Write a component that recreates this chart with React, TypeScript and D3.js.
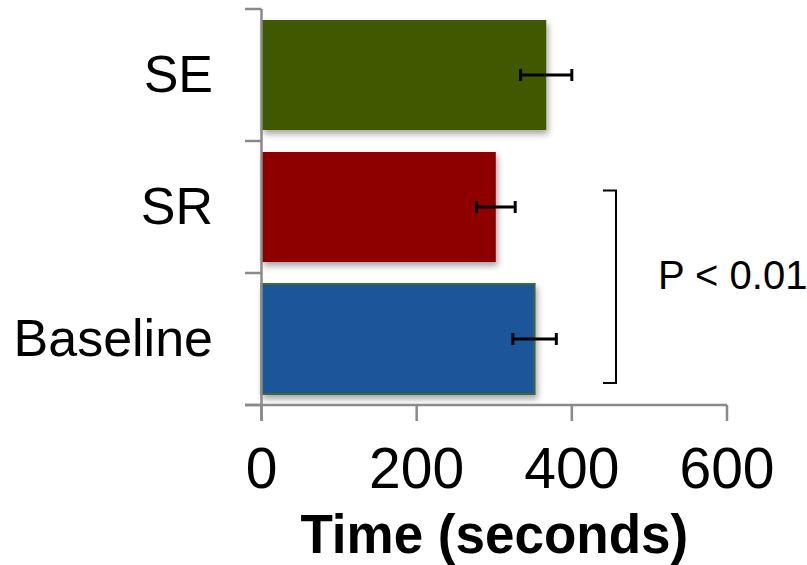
import React from "react";
import * as d3 from "d3";

const categories = ["SE", "SR", "Baseline"];
const means = [367, 302, 352];
const errors = [33, 25, 28];
const barColors = ["#405800", "#8e0000", "#1a5599"];
const barStrokes = ["none", "none", "#3d6a3a"];
const xTicks = [0, 200, 400, 600];
const xTitle = "Time (seconds)";
const sigLabel = "P < 0.01";

const W = 807;
const H = 565;
const FONT = "'Liberation Sans', Arial, Helvetica, sans-serif";

export default function App() {
  const x = d3.scaleLinear().domain([0, 600]).range([261.5, 727]);
  const y = d3
    .scaleBand<string>()
    .domain(categories)
    .range([9, 405])
    .paddingInner(0.1667)
    .paddingOuter(0.0833);
  const axisColor = "#8a8a8a";
  const bandTicks = [9, 9 + 132, 9 + 264, 405];
  const bw = y.bandwidth();
  const sigTop = y("SR")! + bw * 0.35;
  const sigBot = y("Baseline")! + bw * 0.9;
  const titleX = (x(0) + x(600)) / 2;

  return (
    <svg
      width={W}
      height={H}
      style={{ position: "absolute", left: 0, top: 0, background: "#fff" }}
      fontFamily={FONT}
    >
      <defs>
        <filter id="sh" x="-10%" y="-10%" width="130%" height="140%">
          <feDropShadow dx="2" dy="4" stdDeviation="3" floodColor="#000" floodOpacity="0.35" />
        </filter>
      </defs>
      <rect x={0} y={0} width={W} height={H} fill="#fff" />

      {/* bars */}
      {categories.map((c, i) => (
        <rect
          key={c}
          x={x(0)}
          y={y(c)!}
          width={x(means[i]) - x(0)}
          height={bw}
          fill={barColors[i]}
          stroke={barStrokes[i]}
          strokeWidth={barStrokes[i] === "none" ? 0 : 2}
          filter="url(#sh)"
        />
      ))}

      {/* axes */}
      <line x1={x(0)} x2={x(0)} y1={bandTicks[0]} y2={421} stroke={axisColor} strokeWidth={2.5} />
      {bandTicks.map((t, i) => (
        <line key={"yt" + i} x1={245} x2={x(0)} y1={t} y2={t} stroke={axisColor} strokeWidth={2.5} />
      ))}
      <line x1={245} x2={x(600)} y1={405} y2={405} stroke={axisColor} strokeWidth={2.5} />
      {xTicks.map((t) => (
        <line key={"xt" + t} x1={x(t)} x2={x(t)} y1={405} y2={421} stroke={axisColor} strokeWidth={2.5} />
      ))}

      {/* error bars */}
      {categories.map((c, i) => {
        const cy = y(c)! + bw / 2;
        const x1 = x(means[i] - errors[i]);
        const x2 = x(means[i] + errors[i]);
        return (
          <g key={"e" + c} stroke="#000" strokeWidth={3}>
            <line x1={x1} x2={x2} y1={cy} y2={cy} />
            <line x1={x1} x2={x1} y1={cy - 6} y2={cy + 6} />
            <line x1={x2} x2={x2} y1={cy - 6} y2={cy + 6} />
          </g>
        );
      })}

      {/* category labels */}
      {categories.map((c) => (
        <text
          key={"l" + c}
          x={213}
          y={y(c)! + bw / 2 + 17}
          textAnchor="end"
          fontSize={52}
          fill="#000"
        >
          {c}
        </text>
      ))}

      {/* x tick labels */}
      {xTicks.map((t) => (
        <text key={"xl" + t} x={x(t)} y={488} textAnchor="middle" fontSize={57} fill="#000">
          {t}
        </text>
      ))}

      <g transform={`translate(${titleX},553) scale(1,1.05)`}>
        <text x={0} y={0} textAnchor="middle" fontSize={53} fontWeight="bold" fill="#000">
          {xTitle}
        </text>
      </g>

      {/* significance bracket */}
      <path
        d={`M603,${sigTop}H616V${sigBot}H603`}
        fill="none"
        stroke="#000"
        strokeWidth={2}
      />
      <text x={658} y={289} fontSize={40} fill="#000">
        {sigLabel}
      </text>
    </svg>
  );
}
